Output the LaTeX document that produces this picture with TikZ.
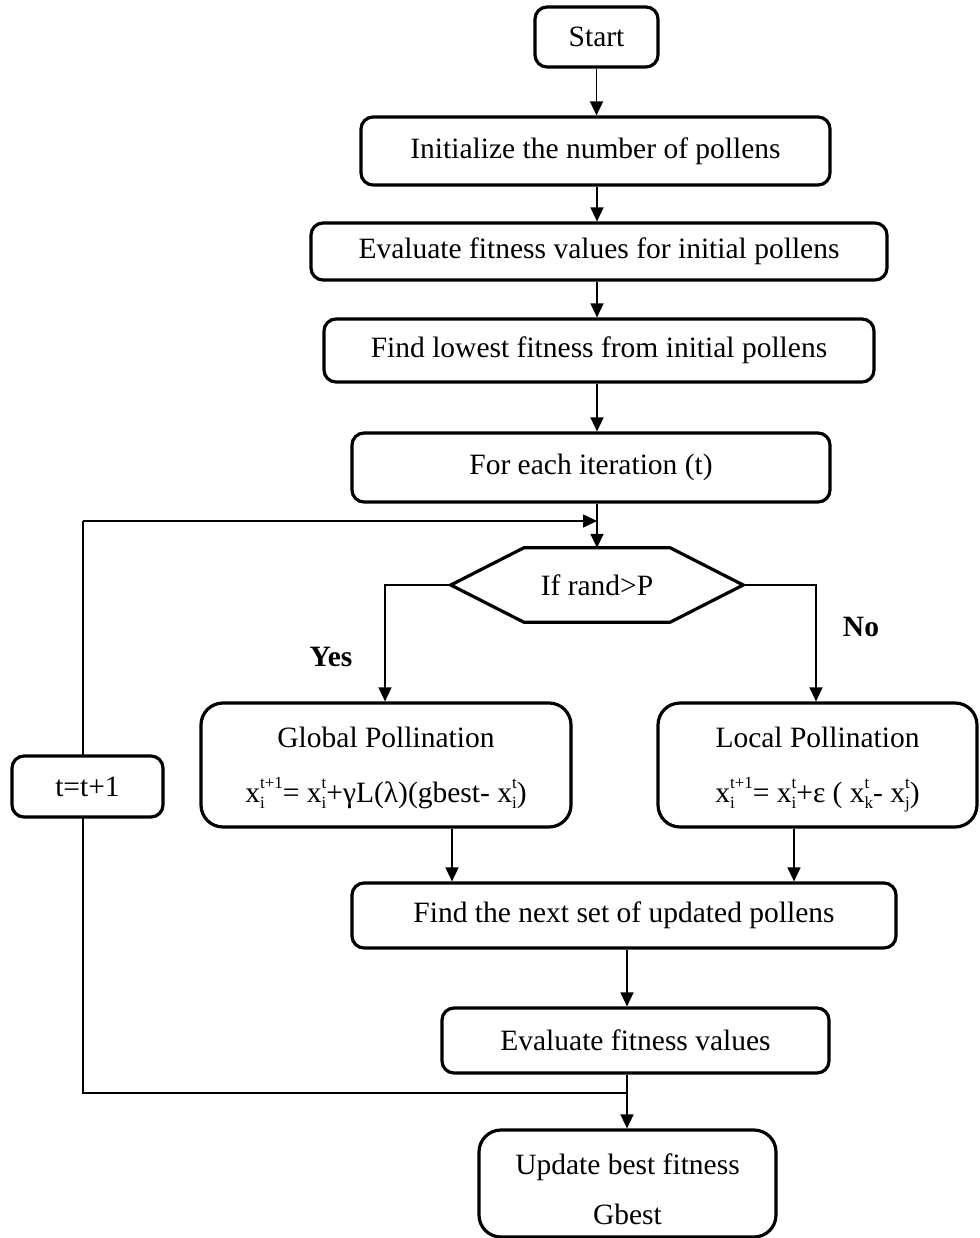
\documentclass[tikz,border=0pt]{standalone}
\usepackage{fontspec}
\setmainfont{Liberation Serif}
\usetikzlibrary{arrows.meta,calc}
\newcommand{\scfont}{\fontsize{17}{17}\selectfont}
\newcommand{\xsb}[2]{x\setbox0\hbox{\scfont #1}\setbox2\hbox{\scfont #2}%
  \dimen0=\wd0 \ifdim\wd2>\dimen0 \dimen0=\wd2 \fi
  \rlap{\raise-6pt\box0}\rlap{\raise14pt\box2}\hskip\dimen0 }
\tikzset{
  box/.style={draw, line width=3.2pt, rounded corners=12pt, fill=white, align=center, inner sep=0pt},
  bigbox/.style={box, rounded corners=22pt},
  conn/.style={line width=1.6pt},
  arr/.style={conn, -{Triangle[length=14pt,width=13pt]}},
  lab/.style={font=\fontsize{29.5}{35}\selectfont\bfseries, inner sep=0pt},
}
\begin{document}
\begin{tikzpicture}[x=1pt,y=-1pt, every node/.append style={font=\fontsize{29.5}{35}\selectfont}]
\useasboundingbox (0,0) rectangle (979,1238);
% nodes
\node[box, minimum width=123pt, minimum height=60pt] (start) at (596.5,37) {Start};
\node[box, minimum width=469pt, minimum height=68pt] (init) at (595.5,151) {Initialize the number of pollens};
\node[box, minimum width=576pt, minimum height=57pt] (evalinit) at (599,251.5) {Evaluate fitness values for initial pollens};
\node[box, minimum width=550pt, minimum height=63pt] (lowest) at (599,350.5) {Find lowest fitness from initial pollens};
\node[box, minimum width=478pt, minimum height=69pt] (foreach) at (591,467.5) {For each iteration (t)};
\node[minimum width=292pt, minimum height=74pt, inner sep=0pt] (dec) at (597,585) {If rand>P};
\draw[line width=3.2pt, line join=miter]
  (dec.west) -- ($(dec.north west)+(73,0)$) -- ($(dec.north east)+(-73,0)$) -- (dec.east)
  -- ($(dec.south east)+(-73,0)$) -- ($(dec.south west)+(73,0)$) -- cycle;
\node[bigbox, minimum width=370pt, minimum height=124pt] (global) at (386,765) {Global Pollination\\[20pt]\smash{\xsb{i}{t+1}= \xsb{i}{t}+γL(λ)(gbest- \xsb{i}{t})}};
\node[bigbox, minimum width=319pt, minimum height=124pt] (local) at (817.5,765) {Local Pollination\\[20pt]\smash{\xsb{i}{t+1}= \xsb{i}{t}+ε ( \xsb{k}{t}- \xsb{j}{t})}};
\node[box, minimum width=544pt, minimum height=65pt] (next) at (624,915.5) {Find the next set of updated pollens};
\node[box, minimum width=387pt, minimum height=65pt] (evalf) at (635.5,1040.5) {Evaluate fitness values};
\node[bigbox, minimum width=297pt, minimum height=107pt] (update) at (627.5,1183.5) {\rule{0pt}{32pt}Update best fitness\\[15pt]\smash{Gbest}};
\node[lab] (yes) at (331,657) {Yes};
\node[lab] (no) at (861,627) {No};
% coordinates
\coordinate (junc) at (627,1093);
\coordinate (lbot) at (83,1093);
\coordinate (ltop) at (83,521);
\coordinate (yesc) at (385,585);
\coordinate (noc) at (816,585);
% connectors
\draw[arr] (start.south) -- (start.south |- init.north);
\draw[arr] (init.south -| 597,0) -- (evalinit.north -| 597,0);
\draw[arr] (evalinit.south -| 597,0) -- (lowest.north -| 597,0);
\draw[arr] (lowest.south -| 597,0) -- (foreach.north -| 597,0);
\draw[arr] (foreach.south -| dec.north) -- (dec.north);
\draw[arr] (dec.west) -- (yesc) -- (yesc |- global.north);
\draw[arr] (dec.east) -- (noc) -- (noc |- local.north);
\draw[arr] (global.south -| 452,0) -- (next.north -| 452,0);
\draw[arr] (local.south -| 794,0) -- (next.north -| 794,0);
\draw[arr] (next.south -| 627,0) -- (evalf.north -| 627,0);
\draw[arr] (evalf.south -| 627,0) -- (update.north -| 627,0);
\draw[conn] (junc) -- (lbot) -- (ltop);
\draw[arr] (ltop) -- (ltop -| dec.north);
\node[box, minimum width=151pt, minimum height=61pt] (tt) at (87.5,786.5) {t=t+1};
\end{tikzpicture}
\end{document}
